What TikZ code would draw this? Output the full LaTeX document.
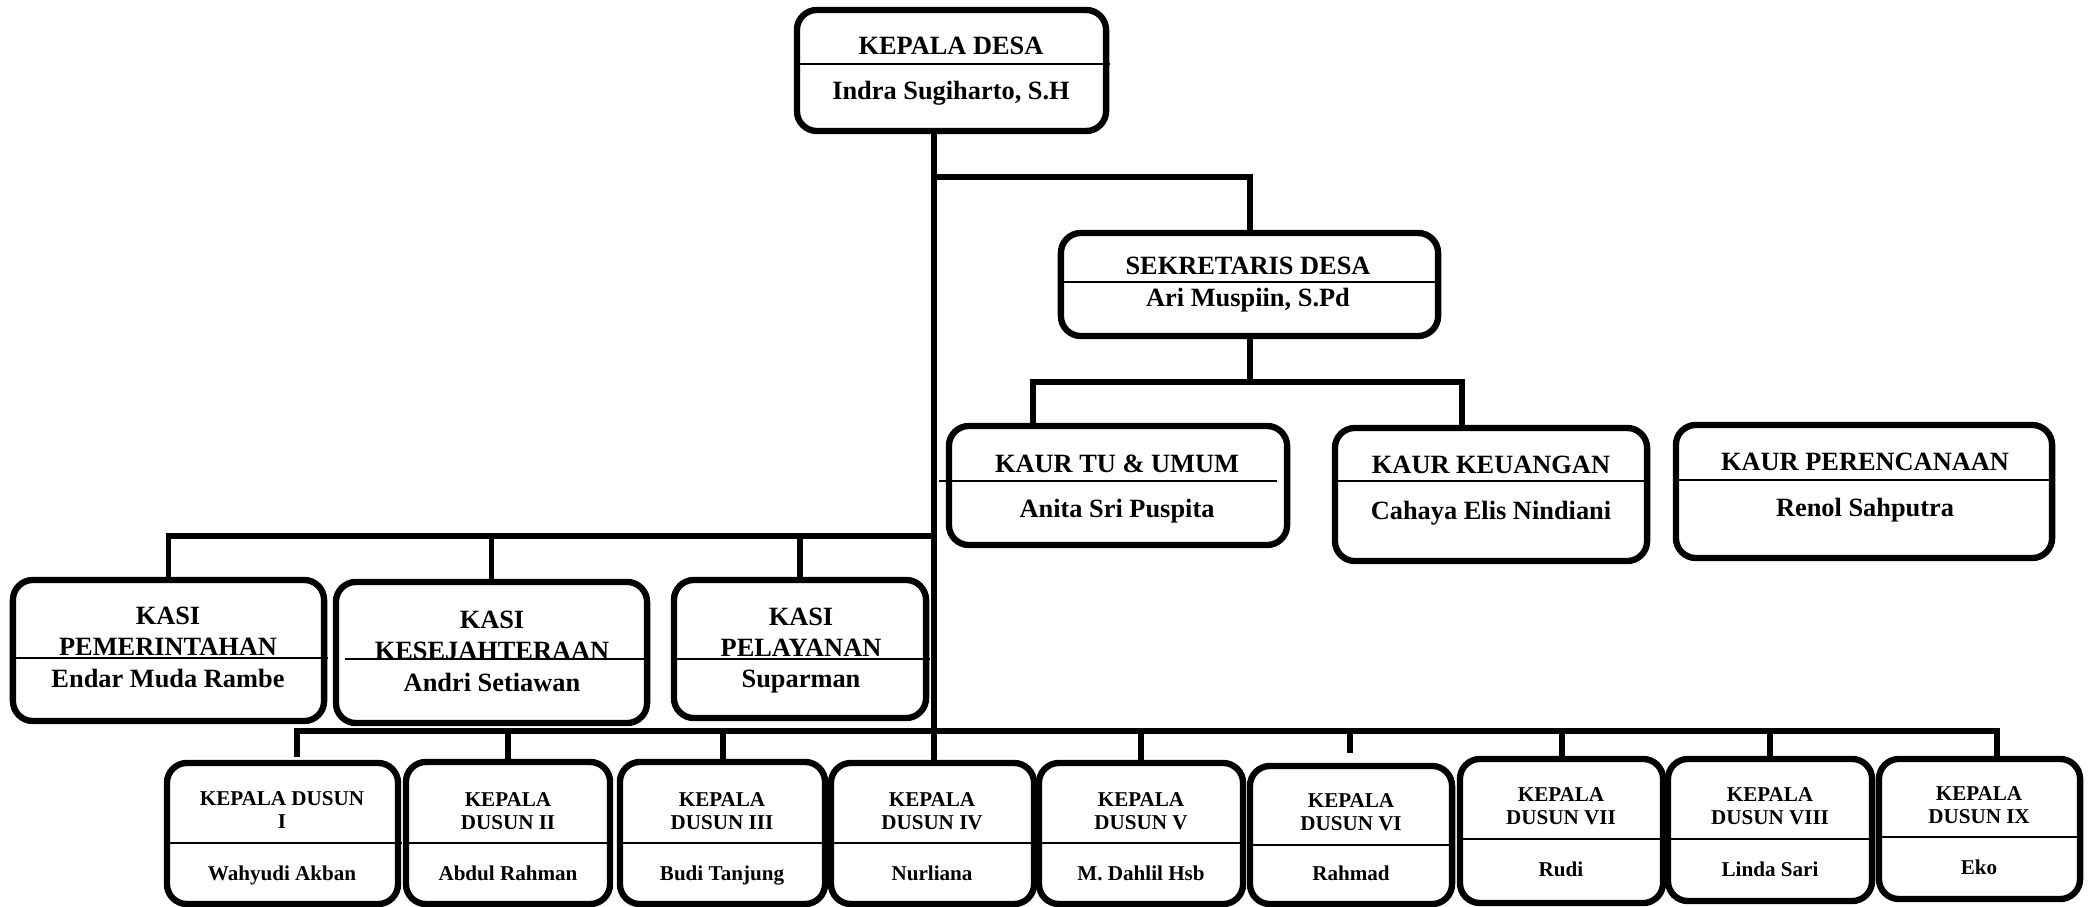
\documentclass[tikz,border=0pt]{standalone}
\usepackage{fontspec}
\setmainfont{Liberation Serif}

\begin{document}
\begin{tikzpicture}[x=0.01cm, y=-0.01cm]
  \tikzset{box/.style = {shape = rectangle, rounded corners = 2mm, draw = black, line width = 1.8pt, inner sep = 0pt}}
  \tikzset{ttl/.style = {font = \fontsize{7.5}{8.8}\selectfont\bfseries, align = center, inner sep = 0pt}}
  \tikzset{dsn/.style = {font = \fontsize{6}{6.5}\selectfont\bfseries, align = center, inner sep = 0pt}}
  \tikzset{link/.style = {line width = 1.7pt}}
  \tikzset{rule/.style = {line width = 0.7pt}}

  \useasboundingbox (0,0) rectangle (2089,907);

  % kepala desa and sekretaris
  \node[box, minimum width = 3.09cm, minimum height = 1.21cm] (desa) at (951.5,70.5) {};
  \node[ttl, anchor = base] (desaT) at (951,55) {KEPALA DESA};
  \node[ttl, anchor = base] (desaN) at (951,100) {Indra Sugiharto, S.H};
  \draw[rule] (797,64) -- (1110,64);

  \node[box, minimum width = 3.77cm, minimum height = 1.03cm] (sekdes) at (1249.5,284.5) {};
  \node[ttl, anchor = base] (sekdesT) at (1248,275) {SEKRETARIS DESA};
  \node[ttl, anchor = base] (sekdesN) at (1248,307) {Ari Muspiin, S.Pd};
  \draw[rule] (1061,282) -- (1438,282);

  % kaur
  \node[box, minimum width = 3.38cm, minimum height = 1.19cm] (kaurtu) at (1118,485.5) {};
  \node[ttl, anchor = base] (kaurtuT) at (1117,473) {KAUR TU \& UMUM};
  \node[ttl, anchor = base] (kaurtuN) at (1117,518) {Anita Sri Puspita};
  \draw[rule] (939,481) -- (1277,481);

  \node[box, minimum width = 3.12cm, minimum height = 1.33cm] (kaurkeu) at (1491,494.5) {};
  \node[ttl, anchor = base] (kaurkeuT) at (1491,474) {KAUR KEUANGAN};
  \node[ttl, anchor = base] (kaurkeuN) at (1491,519) {Cahaya Elis Nindiani};
  \draw[rule] (1335,481) -- (1647,481);

  \node[box, minimum width = 3.76cm, minimum height = 1.33cm] (kaurren) at (1864,491.5) {};
  \node[ttl, anchor = base] (kaurrenT) at (1865,471) {KAUR PERENCANAAN};
  \node[ttl, anchor = base] (kaurrenN) at (1865,517) {Renol Sahputra};
  \draw[rule] (1676,480) -- (2052,480);

  % kasi
  \node[box, minimum width = 3.11cm, minimum height = 1.41cm] (kasipem) at (168.5,650.5) {};
  \node[ttl] (kasipemT) at (168,631) {KASI\\PEMERINTAHAN};
  \node[ttl, anchor = base] (kasipemN) at (168,687) {Endar Muda Rambe};
  \draw[rule] (13,658) -- (328,658);

  \node[box, minimum width = 3.11cm, minimum height = 1.41cm] (kasikes) at (491.5,652.5) {};
  \node[ttl] (kasikesT) at (492,635) {KASI\\KESEJAHTERAAN};
  \node[ttl, anchor = base] (kasikesN) at (492,691) {Andri Setiawan};
  \draw[rule] (345,659) -- (647,659);

  \node[box, minimum width = 2.52cm, minimum height = 1.38cm] (kasipel) at (800,649) {};
  \node[ttl] (kasipelT) at (801,632) {KASI\\PELAYANAN};
  \node[ttl, anchor = base] (kasipelN) at (801,687) {Suparman};
  \draw[rule] (674,659) -- (930,659);

  % kepala dusun
  \node[box, minimum width = 2.31cm, minimum height = 1.41cm] (dusun1) at (282.5,833.5) {};
  \node[dsn] (dusun1T) at (282,810) {KEPALA DUSUN\\I};
  \node[dsn, anchor = base] (dusun1N) at (282,880) {Wahyudi Akban};
  \draw[rule] (167,843) -- (402,843);

  \node[box, minimum width = 2.04cm, minimum height = 1.42cm] (dusun2) at (508,833) {};
  \node[dsn] (dusun2T) at (508,811) {KEPALA\\DUSUN II};
  \node[dsn, anchor = base] (dusun2N) at (508,880) {Abdul Rahman};
  \draw[rule] (406,843) -- (610,843);

  \node[box, minimum width = 2.05cm, minimum height = 1.42cm] (dusun3) at (722.5,833) {};
  \node[dsn] (dusun3T) at (722,811) {KEPALA\\DUSUN III};
  \node[dsn, anchor = base] (dusun3N) at (722,880) {Budi Tanjung};
  \draw[rule] (620,843) -- (825,843);

  \node[box, minimum width = 2.03cm, minimum height = 1.41cm] (dusun4) at (932.5,833.5) {};
  \node[dsn] (dusun4T) at (932,811) {KEPALA\\DUSUN IV};
  \node[dsn, anchor = base] (dusun4N) at (932,880) {Nurliana};
  \draw[rule] (831,843) -- (1034,843);

  \node[box, minimum width = 2.04cm, minimum height = 1.41cm] (dusun5) at (1141,833.5) {};
  \node[dsn] (dusun5T) at (1141,811) {KEPALA\\DUSUN V};
  \node[dsn, anchor = base] (dusun5N) at (1141,880) {M. Dahlil Hsb};
  \draw[rule] (1039,843) -- (1243,843);

  \node[box, minimum width = 2.02cm, minimum height = 1.38cm] (dusun6) at (1351,835) {};
  \node[dsn] (dusun6T) at (1351,812) {KEPALA\\DUSUN VI};
  \node[dsn, anchor = base] (dusun6N) at (1351,880) {Rahmad};
  \draw[rule] (1250,845) -- (1452,845);

  \node[box, minimum width = 2.03cm, minimum height = 1.44cm] (dusun7) at (1561.5,831) {};
  \node[dsn] (dusun7T) at (1561,806) {KEPALA\\DUSUN VII};
  \node[dsn, anchor = base] (dusun7N) at (1561,876) {Rudi};
  \draw[rule] (1460,839) -- (1663,839);

  \node[box, minimum width = 2.04cm, minimum height = 1.42cm] (dusun8) at (1770,830) {};
  \node[dsn] (dusun8T) at (1770,806) {KEPALA\\DUSUN VIII};
  \node[dsn, anchor = base] (dusun8N) at (1770,876) {Linda Sari};
  \draw[rule] (1668,839) -- (1872,839);

  \node[box, minimum width = 2.01cm, minimum height = 1.40cm] (dusun9) at (1979.5,829) {};
  \node[dsn] (dusun9T) at (1979,805) {KEPALA\\DUSUN IX};
  \node[dsn, anchor = base] (dusun9N) at (1979,874) {Eko};
  \draw[rule] (1879,837) -- (2080,837);

  % connectors
  \coordinate (spineTop) at (934,132);
  \coordinate (sekJ) at (934,177);
  \coordinate (kasiJ) at (934,536);
  \coordinate (dsnJ) at (934,731);
  \coordinate (kaurJ) at (1249.5,382);
  \coordinate (tuDrop) at (1033,426);
  \coordinate (keuDrop) at (1462,428);
  \coordinate (d1Drop) at (297,757);
  \coordinate (d6Drop) at (1350,753);
  \coordinate (d9Drop) at (1997,759);

  \draw[link] (spineTop) -- (spineTop |- dusun4.north);
  \draw[link] (sekJ) -| (sekdes.north);
  \draw[link] (sekdes.south) -- (kaurJ);
  \draw[link] (tuDrop) |- (kaurJ) -| (keuDrop);
  \draw[link] (kasipem.north) |- (kasiJ);
  \draw[link] (kasiJ) -| (kasikes.north);
  \draw[link] (kasiJ) -| (kasipel.north);
  \draw[link] (d1Drop) |- (d9Drop |- dsnJ) -- (d9Drop);
  \draw[link] (dsnJ) -| (dusun2.north);
  \draw[link] (dsnJ) -| (dusun3.north);
  \draw[link] (dsnJ) -| (dusun5.north);
  \draw[link] (dsnJ) -| (d6Drop);
  \draw[link] (dsnJ) -| (dusun7.north);
  \draw[link] (dsnJ) -| (dusun8.north);
\end{tikzpicture}
\end{document}
